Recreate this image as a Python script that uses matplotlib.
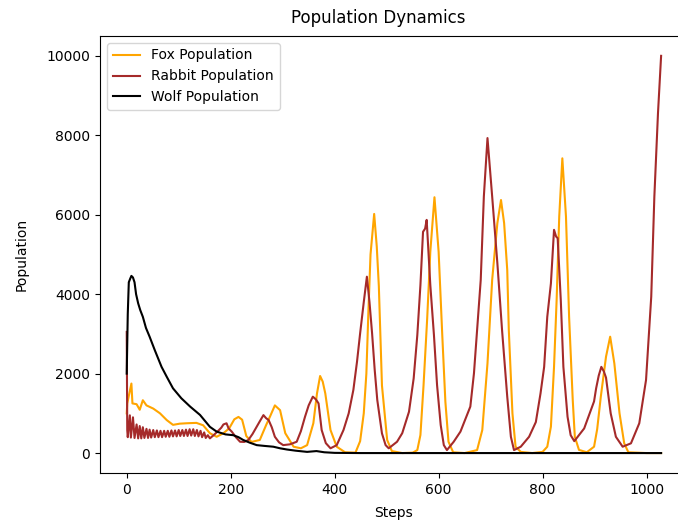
import matplotlib
matplotlib.use("Agg")
import matplotlib.pyplot as plt

# population samples per simulation step
fox_steps = [0, 1, 9, 11, 19, 25, 31, 38, 51, 64, 77, 89, 102, 115, 134, 147, 160, 173,
             186, 197, 207, 215, 222, 230, 240, 256, 268, 276, 285, 295, 305, 321, 335,
             347, 359, 366, 372, 377, 382, 392, 404, 420, 440, 449, 456, 461, 465, 469,
             476, 481, 485, 491, 501, 510, 530, 550, 559, 565, 571, 578, 584, 592, 600,
             607, 613, 619, 628, 650, 674, 684, 694, 703, 713, 720, 726, 732, 735, 742,
             748, 758, 780, 800, 809, 816, 822, 827, 832, 838, 845, 851, 858, 862, 870,
             885, 899, 905, 912, 922, 930, 938, 948, 957, 965, 1000, 1028]
fox = [1000, 1250, 1750, 1250, 1230, 1090, 1330, 1200, 1120, 1000, 830, 710, 740, 750,
       760, 700, 500, 410, 500, 620, 850, 910, 840, 430, 280, 330, 700, 930, 1200, 1080,
       500, 160, 120, 200, 750, 1500, 1940, 1800, 1500, 580, 160, 20, 10, 300, 1000, 2000,
       3600, 5000, 6020, 5200, 4200, 1700, 330, 50, 0, 10, 75, 455, 1710, 3390, 5070,
       6440, 5070, 2970, 1290, 285, 20, 0, 75, 580, 2260, 4360, 5790, 6370, 5790, 4610,
       3100, 1000, 160, 30, 0, 30, 160, 665, 2170, 3850, 5950, 7420, 5950, 3430, 1335,
       410, 80, 20, 160, 600, 1420, 2425, 2930, 2260, 1000, 245, 20, 0, 0]

rabbit_steps = [0, 1, 2, 6, 8, 12, 15, 19, 22, 25, 28, 31, 34, 38, 41, 44, 47, 51, 54,
                58, 61, 65, 68, 72, 75, 79, 82, 86, 89, 93, 96, 100, 103, 107, 110, 114,
                117, 121, 124, 128, 131, 135, 138, 142, 145, 149, 152, 156, 160, 168,
                176, 182, 186, 192, 196, 202, 210, 218, 226, 234, 242, 250, 256, 263,
                268, 273, 279, 285, 293, 301, 314, 327, 335, 343, 350, 358, 364, 369,
                375, 383, 392, 404, 417, 427, 436, 443, 449, 456, 462, 467, 472, 477,
                482, 491, 498, 504, 520, 530, 535, 543, 552, 559, 565, 570, 574, 577,
                584, 591, 597, 604, 610, 616, 629, 642, 652, 661, 668, 674, 681, 687,
                694, 703, 713, 722, 732, 739, 745, 758, 774, 787, 796, 803, 809, 816,
                822, 826, 829, 835, 840, 848, 854, 861, 870, 880, 893, 899, 903, 908,
                913, 918, 922, 931, 941, 954, 970, 986, 999, 1009, 1015, 1022, 1028]
rabbit = [3050, 580, 400, 950, 390, 900, 380, 720, 370, 680, 370, 650, 380, 610, 380,
          590, 390, 580, 400, 570, 400, 560, 400, 560, 410, 560, 410, 570, 420, 570, 420,
          580, 430, 580, 430, 590, 430, 600, 440, 600, 430, 580, 420, 560, 400, 520, 380,
          450, 370, 460, 560, 640, 720, 750, 620, 540, 400, 285, 280, 330, 480, 665, 800,
          955, 880, 830, 650, 410, 270, 200, 220, 285, 550, 915, 1200, 1420, 1350, 1250,
          580, 250, 120, 200, 580, 1000, 1590, 2300, 3015, 3800, 4440, 3800, 3015, 2100,
          1335, 495, 200, 120, 285, 500, 705, 1040, 1880, 2970, 4230, 5570, 5650, 5870,
          4230, 2970, 1710, 705, 200, 75, 285, 540, 875, 1170, 2010, 3100, 4360, 6460,
          7930, 6460, 4780, 3100, 1420, 410, 75, 160, 410, 780, 1500, 2170, 3430, 4270,
          5620, 5450, 5410, 3850, 2170, 915, 450, 300, 450, 620, 1085, 1300, 1630, 1950,
          2170, 2050, 1900, 1000, 410, 160, 245, 750, 1840, 3935, 6455, 8560, 10000]

wolf_steps = [0, 2, 4, 7, 9, 12, 15, 18, 22, 26, 31, 37, 44, 54, 67, 77, 89, 105, 122,
              141, 160, 173, 190, 205, 215, 224, 237, 250, 265, 282, 295, 308, 325, 347,
              365, 380, 400, 450, 1028]
wolf = [2000, 3500, 4300, 4400, 4460, 4420, 4300, 4000, 3770, 3600, 3430, 3150, 2930,
        2590, 2170, 1920, 1630, 1380, 1170, 960, 660, 540, 470, 450, 400, 330, 260, 200,
        180, 160, 120, 90, 60, 30, 50, 20, 5, 0, 0]

fig = plt.figure(figsize=(6.78, 5.29), dpi=100)
ax = fig.add_axes([0.1475, 0.106, 0.867, 0.826])

ax.plot(fox_steps, fox, color="orange", label="Fox Population")
ax.plot(rabbit_steps, rabbit, color="brown", label="Rabbit Population")
ax.plot(wolf_steps, wolf, color="black", label="Wolf Population")

ax.set_title("Population Dynamics", x=0.474, pad=9)
ax.set_xlabel("Steps", labelpad=7)
ax.set_ylabel("Population", labelpad=13)
ax.legend(loc="upper left")
# axes run past the right edge of the canvas
ax.spines["right"].set_visible(False)

fig.savefig("out.png", dpi=100)
